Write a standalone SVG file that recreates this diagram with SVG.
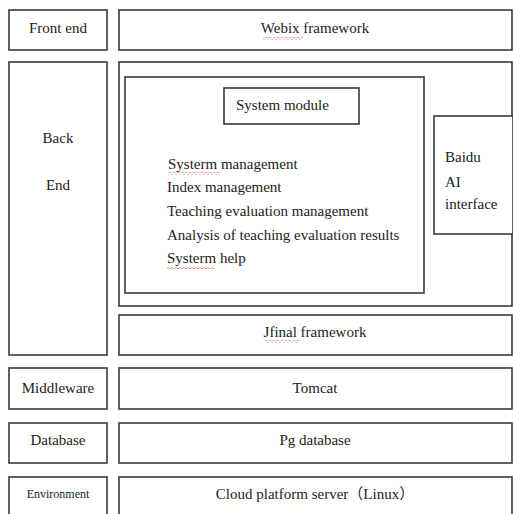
<svg xmlns="http://www.w3.org/2000/svg" width="513" height="514" viewBox="0 0 513 514">
<style>
.b{fill:#fff;stroke:#3a3a3a;stroke-width:1.6}
text{font-family:"Liberation Serif","DejaVu Serif","Noto Sans CJK SC",serif;font-size:15px;fill:#222}
.c{text-anchor:middle}
.sq{fill:none;stroke:#d98080;stroke-width:0.8}
</style>
<defs>
<pattern id="wave" width="4" height="3" patternUnits="userSpaceOnUse"><path d="M0 0.5 L2 2 L4 0.5" fill="none" stroke="#d98080" stroke-width="0.8"/></pattern>
</defs>
<rect width="513" height="514" fill="#fff"/>
<g id="front-end"><rect class="b" x="9" y="10" width="98" height="40"/><text class="c" x="58" y="33">Front end</text></g>
<g id="webix"><rect class="b" x="119" y="10" width="393" height="40"/><text class="c" x="315" y="33">Webix framework</text>
<rect x="263" y="37" width="40" height="3" fill="url(#wave)"/></g>
<g id="back-end"><rect class="b" x="9" y="62" width="98" height="293"/><text class="c" x="58" y="143">Back</text><text class="c" x="58" y="190">End</text></g>
<g id="backend-container"><rect class="b" x="119" y="62" width="393" height="244"/></g>
<g id="module-area"><rect class="b" x="125" y="77" width="299" height="216"/>
<text x="168" y="169">Systerm management</text>
<text x="167" y="192">Index management</text>
<text x="167" y="216">Teaching evaluation management</text>
<text x="167" y="240">Analysis of teaching evaluation results</text>
<text x="167" y="263">Systerm help</text>
<rect x="168" y="172" width="52" height="3" fill="url(#wave)"/>
<rect x="167" y="266" width="48" height="3" fill="url(#wave)"/></g>
<g id="system-module"><rect class="b" x="224" y="88" width="135" height="36"/><text x="236" y="110">System module</text></g>
<g id="baidu-ai"><rect class="b" x="434" y="116" width="79" height="118"/><text x="445" y="162">Baidu</text><text x="445" y="187">AI</text><text x="445" y="209">interface</text></g>
<g id="jfinal"><rect class="b" x="119" y="315" width="393" height="40"/><text class="c" x="315" y="337">Jfinal framework</text>
<rect x="265" y="340" width="34" height="3" fill="url(#wave)"/></g>
<g id="middleware"><rect class="b" x="9" y="368" width="98" height="41"/><text class="c" x="58" y="393">Middleware</text></g>
<g id="tomcat"><rect class="b" x="119" y="368" width="393" height="41"/><text class="c" x="315" y="393">Tomcat</text></g>
<g id="database"><rect class="b" x="9" y="423" width="98" height="40"/><text class="c" x="58" y="445">Database</text></g>
<g id="pg"><rect class="b" x="119" y="423" width="393" height="40"/><text class="c" x="315" y="445">Pg database</text></g>
<g id="environment"><rect class="b" x="9" y="477" width="98" height="45"/><text class="c" x="58" y="498" style="font-size:12px">Environment</text></g>
<g id="cloud"><rect class="b" x="119" y="477" width="393" height="45"/><text class="c" x="315" y="499">Cloud platform server（Linux）</text></g>
<g id="connectors"/>
</svg>
